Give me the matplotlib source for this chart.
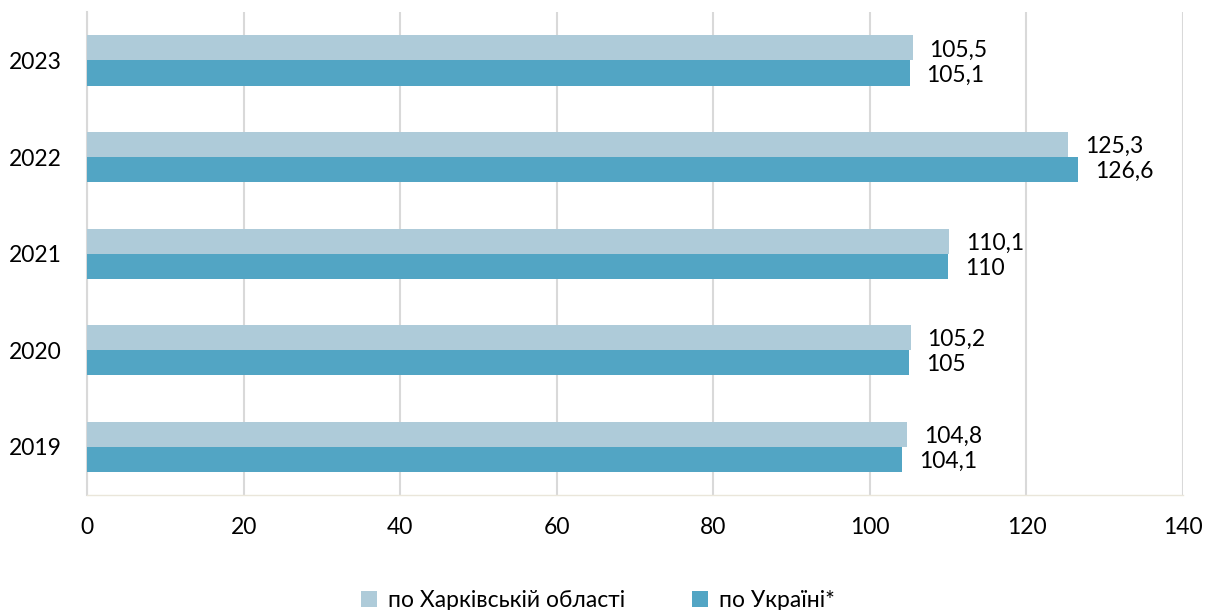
import matplotlib
matplotlib.use("Agg")
import matplotlib.pyplot as plt
import numpy as np

years = ["2019", "2020", "2021", "2022", "2023"]
kharkiv = [104.8, 105.2, 110.1, 125.3, 105.5]
ukraine = [104.1, 105.0, 110.0, 126.6, 105.1]
series_names = ["по Харківській області", "по Україні*"]
xticks = [0, 20, 40, 60, 80, 100, 120, 140]

c_light = "#AECBD9"
c_dark = "#52A5C4"

plt.rcParams['font.family'] = ['Lato', 'DejaVu Sans']
FS = 16.5

fig = plt.figure(figsize=(12.2, 6.1), dpi=100)
ax = fig.add_axes([0.0713, 0.1885, 0.8984, 0.7915])

y = np.arange(len(years))
h = 0.26
b1 = ax.barh(y + h/2, kharkiv, height=h, color=c_light, label=series_names[0], zorder=3)
b2 = ax.barh(y - h/2, ukraine, height=h, color=c_dark, label=series_names[1], zorder=3)

def fmt(v):
    s = f"{v:.1f}".replace(".", ",")
    if s.endswith(",0"):
        s = s[:-2]
    return s

for bars, vals in ((b1, kharkiv), (b2, ukraine)):
    for rect, v in zip(bars, vals):
        ax.annotate(fmt(v), xy=(v, rect.get_y() + rect.get_height()/2),
                    xytext=(12, -1.5), textcoords="offset points",
                    ha="left", va="center", fontsize=FS, color="#000000")

ax.set_xlim(0, 140)
ax.set_ylim(-0.5, len(years) - 0.5)
ax.set_xticks(xticks)
ax.set_xticklabels([str(t) for t in xticks], fontsize=FS)
ax.set_yticks(y)
ax.set_yticklabels(years, fontsize=FS)
ax.tick_params(axis='y', length=0, pad=18)
ax.tick_params(axis='x', length=0, pad=16)
ax.grid(axis='x', color="#D9D9D9", linewidth=1.5, zorder=0)
for s in ["top", "right"]:
    ax.spines[s].set_visible(False)
ax.spines["left"].set_color("#D9D9D9")
ax.spines["left"].set_linewidth(1.5)
ax.spines["bottom"].set_color("#EAE6DA")
ax.spines["bottom"].set_linewidth(1.0)

fig.legend(handles=[b1, b2], loc="lower center", bbox_to_anchor=(0.49, -0.035),
           ncol=2, frameon=False, fontsize=FS, handlelength=0.7, handleheight=0.7,
           columnspacing=2.9, handletextpad=0.5)

fig.savefig("out.png", dpi=100)
